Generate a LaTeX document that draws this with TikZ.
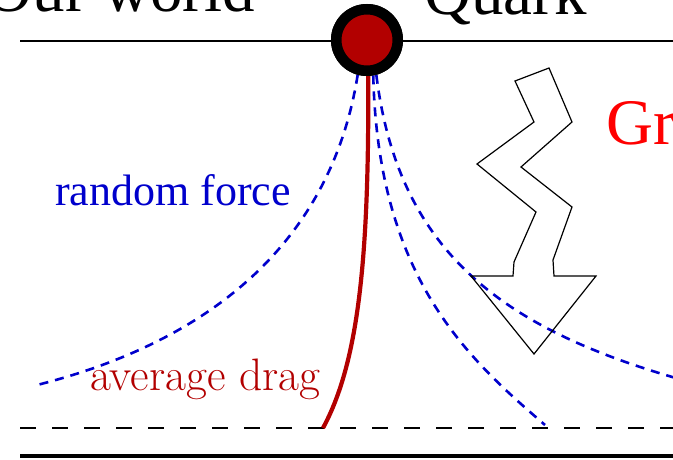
\documentclass[tikz,border=0pt]{standalone}
\usepackage{fontspec}
\newfontfamily\timesf{Liberation Serif}
\definecolor{qred}{RGB}{178,0,0}
\definecolor{fblue}{RGB}{0,0,204}
\definecolor{gred}{RGB}{255,0,0}
\tikzset{
  worldline/.style={line width=2.8pt},
  horizonline/.style={line width=2.6pt, dash pattern=on 16pt off 16pt},
  forceline/.style={fblue, line width=2.6pt, dash pattern=on 9pt off 7pt},
  dragline/.style={qred, line width=4.2pt},
  quarkdot/.style={circle, draw=black, line width=10.5pt, fill=qred, minimum size=61.5pt, inner sep=0pt},
  bolt/.style={draw=black, line width=1.2pt, line join=miter},
  lbl/.style={inner sep=0pt}
}
\begin{document}
\begin{tikzpicture}[x=1pt,y=-1pt]
\useasboundingbox (0,0) rectangle (673,460);
\clip (0,0) rectangle (673,460);
% coordinates of line ends
\coordinate (wl) at (20,41);
\coordinate (wr) at (690,41);
\coordinate (hl) at (20,428);
\coordinate (hr) at (690,428);
\coordinate (bl) at (20,456);
\coordinate (br) at (690,456);
\coordinate (dragend) at (323,428);
\coordinate (f1) at (33,386);
\coordinate (f2) at (545,425);
\coordinate (f3) at (690,382);

\draw[worldline] (wl) -- (wr);
\draw[horizonline] (hl) -- (hr);
\draw[worldline, line width=3.2pt] (bl) -- (br);

\node[quarkdot] (quark) at (367,40) {};

% random forces
\draw[forceline] (quark.-105) .. controls (330,250) and (200,345) .. (f1);
\draw[forceline] (quark.-80) .. controls (378,280) and (470,360) .. (f2);
\draw[forceline] (quark.-75) .. controls (398,250) and (500,330) .. (f3);

% average drag
\draw[dragline] (quark.-88) .. controls (369,250) and (360,360) .. (dragend);

\node[quarkdot] at (quark) {};

% bolt
\draw[bolt] (515,81) -- (549,68) -- (572,122) -- (521,167) -- (572,207)
  -- (553,260) -- (554,276) -- (596,276) -- (534,354) -- (471,276)
  -- (513,276) -- (514,262) -- (536,212) -- (477,164) -- (534,122) -- cycle;

% labels
\node[lbl, anchor=base east, font=\timesf\fontsize{65}{78}\selectfont] (ourworld) at (255,12) {Our world};
\node[lbl, anchor=base west, font=\timesf\fontsize{65}{78}\selectfont] (quarklbl) at (424,15) {Quark};
\node[lbl, anchor=base west, text=gred, font=\timesf\fontsize{65}{78}\selectfont] (grav) at (606,145) {Gr};
\node[lbl, anchor=base west, text=fblue, font=\timesf\fontsize{44}{53}\selectfont] (rf) at (55,205) {random force};
\node[lbl, anchor=base west, text=qred, font=\fontsize{45.5}{54}\selectfont] (ad) at (90,390) {average drag};
\end{tikzpicture}
\end{document}
